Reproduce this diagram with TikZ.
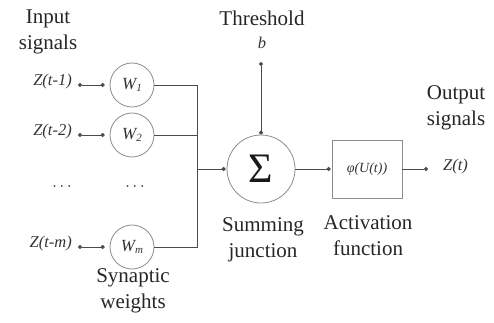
\documentclass[tikz,border=0pt]{standalone}
\usepackage{fontspec}
\setmainfont{Liberation Serif}
\usetikzlibrary{arrows.meta}
\tikzset{
  lbl/.style={text=black!85, font=\fontsize{21}{26}\selectfont, align=center, inner sep=0pt},
  sig/.style={text=black!80, font=\fontsize{16.5}{18}\selectfont\itshape, inner sep=0pt},
  wcirc/.style={circle, draw=black!45, line width=0.8pt, minimum size=44pt, inner sep=0pt, text=black!80, font=\fontsize{17}{18}\selectfont\itshape},
  line/.style={draw=black!70, line width=0.8pt},
  conn/.style={line, {Circle[length=4pt]}-{Circle[length=4pt]}},
  connend/.style={line, -{Circle[length=4pt]}},
}
\begin{document}
\begin{tikzpicture}[x=1pt,y=-1pt]
\useasboundingbox (0,0) rectangle (494,323);
% labels
\node[lbl] (inl) at (48,32) {Input\\signals};
\node[lbl] (thr) at (262,18) {Threshold};
\node[sig] (b) at (262,43) {b};
\node[lbl] (outl) at (456,108) {Output\\signals};
\node[lbl] (synl) at (133,291) {Synaptic\\weights};
\node[lbl] (suml) at (263,240) {Summing\\junction};
\node[lbl] (actl) at (368,236) {Activation\\function};
% inputs
\node[sig, anchor=east] (z1) at (72,82) {Z(t-1)};
\node[sig, anchor=east] (z2) at (72,132) {Z(t-2)};
\node[sig, anchor=east] (zm) at (72,244) {Z(t-m)};
\node[sig, font=\fontsize{15}{17}\selectfont] (d1) at (62,189) {·\,·\,·};
\node[sig, font=\fontsize{15}{17}\selectfont] (d2) at (135,189) {·\,·\,·};
% weights
\node[wcirc] (w1) at (132,85) {W\raisebox{-2pt}{\fontsize{11}{11}\selectfont 1}};
\node[wcirc] (w2) at (132,135) {W\raisebox{-2pt}{\fontsize{11}{11}\selectfont 2}};
\node[wcirc] (wm) at (132,247) {W\raisebox{-2pt}{\fontsize{11}{11}\selectfont m}};
% summing junction
\node[circle, draw=black!45, line width=0.8pt, minimum size=68pt, inner sep=0pt, text=black!90, font=\fontsize{42}{42}\selectfont] (sum) at (261,169) {Σ};
% activation
\node[draw=black!45, line width=0.8pt, minimum width=70pt, minimum height=58pt, inner sep=0pt, text=black!80, font=\fontsize{14}{16}\selectfont\itshape] (act) at (367,169) {φ(U(t))};
\node[sig, anchor=west] (zt) at (443,167) {Z(t)};
% coordinates
\coordinate (s1) at (78,85);
\coordinate (s2) at (78,135);
\coordinate (sm) at (78,247);
\coordinate (bt) at (197,85);
\coordinate (bb) at (197,247);
\coordinate (bm) at (197,169);
\coordinate (bs) at (261,62);
\coordinate (oe) at (428,169);
% connectors
\draw[conn] (s1) -- ([xshift=-5pt]w1.west);
\draw[conn] (s2) -- ([xshift=-5pt]w2.west);
\draw[conn] (sm) -- ([xshift=-5pt]wm.west);
\draw[line] (w1.east) -- (bt) -- (bb) -- (wm.east);
\draw[line] (w2.east) -- (w2.east -| bt);
\draw[connend] (bm) -- ([xshift=-1pt]sum.west);
\draw[conn] (bs) -- (sum.north);
\draw[connend] (sum.east) -- ([xshift=-1pt]act.west);
\draw[connend] (act.east) -- (oe);
\end{tikzpicture}
\end{document}
